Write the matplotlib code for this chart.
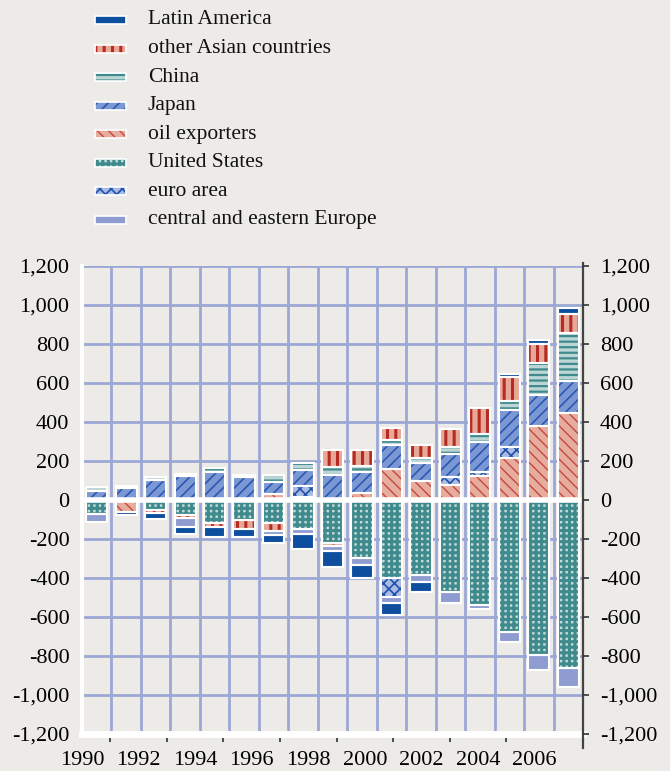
import numpy as np
import matplotlib as mpl
import matplotlib.pyplot as plt
from matplotlib.patches import Rectangle
from matplotlib.lines import Line2D

W, H = 670, 771
years = list(range(1990, 2007))

# current account balances (USD bn)
us = [-70, 0, -51, -77, -120, -103, -120, -150, -222, -299, -400, -385, -472, -540, -677, -795, -862]
oil = [0, -60, 0, 0, 0, 0, 32, 15, -15, 37, 158, 100, 75, 125, 215, 380, 445]
euro = [0, 0, 0, 0, 0, 0, 0, 55, 0, 0, -95, 0, 45, 20, 55, 0, 0]
japan = [48, 60, 103, 123, 145, 116, 60, 85, 128, 108, 122, 90, 115, 150, 190, 160, 165]
china = [17, 12, 17, 12, 21, 12, 34, 34, 43, 29, 26, 23, 35, 45, 50, 165, 245]
other_asia = [0, 0, -14, -17, -17, -47, -37, 0, 85, 82, 62, 70, 95, 130, 120, 95, 100]
cee = [-41, 0, 0, -43, 0, 0, -25, -25, -25, -34, -35, -35, -58, -20, -53, -77, -98]
latam = [0, -17, -34, -37, -51, -38, -40, -75, -80, -69, -60, -52, 0, 0, 15, 20, 30]

# stacking order (first series sits next to zero)
stack = [
    ("United States", us, "#C3DAD9", "+++", "#3F8A8C", 2.2),
    ("oil exporters", oil, "#E6AC9E", "\\\\\\", "#C4483E", 1.0),
    ("euro area", euro, "#A9BBE4", "xxx", "#1F4FA8", 1.2),
    ("Japan", japan, "#7B98D4", "///", "#2A57B0", 1.2),
    ("China", china, "#BCD6D5", "---", "#3F8A8C", 1.6),
    ("other Asian countries", other_asia, "#E8A898", "||", "#B52A22", 2.2),
    ("central and eastern Europe", cee, "#8F9CD2", "", "#8F9CD2", 1.0),
    ("Latin America", latam, "#0E4E9F", "", "#0E4E9F", 1.0),
]
legend_order = ["Latin America", "other Asian countries", "China", "Japan",
                "oil exporters", "United States", "euro area",
                "central and eastern Europe"]

bg = "#EDEBE8"
grid_c = "#9DA7D5"
plt.rcParams['font.family'] = ['Liberation Serif', 'DejaVu Serif']

fig = plt.figure(figsize=(W / 100, H / 100), dpi=100)
fig.patch.set_facecolor(bg)
ax = fig.add_axes([82 / W, 1 - 734 / H, 501 / W, 468 / H])
ax.set_facecolor(bg)

x = np.arange(len(years))
pos_base = np.zeros(len(years))
neg_base = np.zeros(len(years))
bw = 0.72
for name, vals, face, hatch, hcol, hlw in stack:
    v = np.array(vals, dtype=float)
    bottom = np.where(v >= 0, pos_base, neg_base)
    m = v != 0
    mpl.rcParams['hatch.linewidth'] = hlw
    bars = ax.bar(x[m], v[m], bottom=bottom[m], width=bw, color=face,
                  hatch=hatch if hatch else None, edgecolor=hcol, linewidth=0, zorder=2)
    for p in bars:
        if hasattr(p, "set_hatch_linewidth"):
            p.set_hatch_linewidth(hlw)
    ax.bar(x[m], v[m], bottom=bottom[m], width=bw, fill=False,
           edgecolor="white", linewidth=1.5, zorder=3)
    pos_base = pos_base + np.where(v > 0, v, 0)
    neg_base = neg_base + np.where(v < 0, v, 0)

ax.set_xlim(-0.5, len(years) - 0.5)
ax.set_ylim(-1200, 1200)
yt = list(range(-1200, 1201, 200))
for yv in yt[1:]:
    ax.axhline(yv, color=grid_c, lw=2.0, zorder=1)
for xv in x[:-1] + 0.5:
    ax.axvline(xv, color=grid_c, lw=2.0, zorder=1)
ax.axhline(0, color="white", lw=4, zorder=4)

ax.spines["top"].set_visible(False)
ax.spines["left"].set_color("white")
ax.spines["left"].set_linewidth(3)
ax.spines["bottom"].set_color("white")
ax.spines["bottom"].set_linewidth(5)
ax.spines["right"].set_visible(False)
ax.add_line(Line2D([1.0, 1.0], [-0.03, 1.006], transform=ax.transAxes,
                   color="#444444", lw=1.6, clip_on=False, zorder=5))

fmt = [f"{v:,}" for v in yt]
ax.set_yticks(yt)
ax.set_yticklabels(fmt)
ax.tick_params(axis="y", length=0, pad=9, labelsize=16)

# year labels sit on a slightly compressed scale, as in the original
lab_step = 0.96
ax.set_xticks([-0.5 + 2 * k * lab_step for k in range(9)])
ax.set_xticklabels([str(y) for y in years[::2]])
ax.set_xticks([-0.5 + (j + 1) * lab_step for j in range(16)], minor=True)
ax.tick_params(axis="x", which="major", length=0, pad=12, labelsize=16)
ax.tick_params(axis="x", which="minor", length=6, width=1.1, color="#222222", direction="out")

ax2 = ax.twinx()
ax2.set_ylim(-1200, 1200)
ax2.set_yticks(yt)
ax2.set_yticklabels(fmt)
for s in ax2.spines.values():
    s.set_visible(False)
ax2.tick_params(axis="y", length=4, width=1.2, color="#333333", pad=8, labelsize=16)

# legend
styles = {name: (face, hatch, hcol, hlw) for name, vals, face, hatch, hcol, hlw in stack}
for i, name in enumerate(legend_order):
    face, hatch, hcol, hlw = styles[name]
    yc = 20 + 28.5 * i
    mpl.rcParams['hatch.linewidth'] = hlw
    r = Rectangle((95 / W, 1 - (yc + 4) / H), 31 / W, 8 / H, transform=fig.transFigure,
                  facecolor=face, hatch=hatch if hatch else None, edgecolor=hcol, linewidth=0)
    if hasattr(r, "set_hatch_linewidth"):
        r.set_hatch_linewidth(hlw)
    fig.add_artist(r)
    fig.add_artist(Rectangle((95 / W, 1 - (yc + 4) / H), 31 / W, 8 / H, transform=fig.transFigure,
                             fill=False, edgecolor="white", linewidth=1.2))
    fig.text(148 / W, 1 - yc / H, name, fontsize=15.5, va="center", ha="left", color="#111111")

fig.savefig("out.png", dpi=100, facecolor=bg)
